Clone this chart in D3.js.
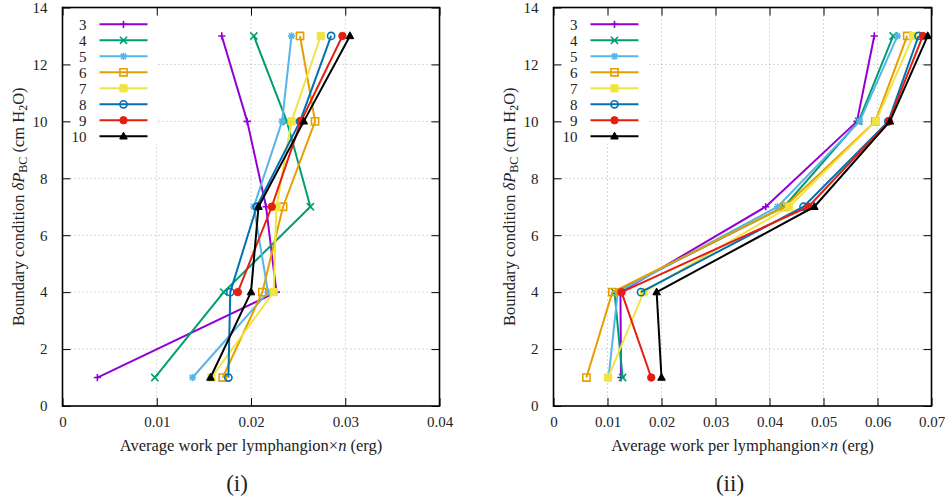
<!DOCTYPE html>
<html><head><meta charset="utf-8">
<script src="https://cdn.jsdelivr.net/npm/d3@7"></script>
<style>
html,body{margin:0;padding:0;background:#fff;}
svg{display:block;}
svg text{font-family:"Liberation Serif",serif;}
</style></head>
<body><svg id="c" width="946" height="503"></svg>
<script>
// ---- data ----
const yLevels = [1, 4, 7, 10, 13];
const seriesNames = ["3", "4", "5", "6", "7", "8", "9", "10"];
const seriesColors = ["#9400d3", "#009e73", "#56b4e9", "#e69f00", "#f0e442", "#0072b2", "#e51e10", "#000000"];
const seriesMarkers = ["plus", "cross", "star", "osq", "fsq", "ocirc", "fcirc", "ftri"];

// panel (i): average work per lymphangion x n at yLevels
const p1_s3  = [0.0037, 0.0227, 0.0216, 0.0196, 0.0169];
const p1_s4  = [0.0098, 0.0171, 0.0263, 0.0238, 0.0203];
const p1_s5  = [0.0138, 0.0218, 0.0203, 0.0233, 0.0243];
const p1_s6  = [0.0170, 0.0212, 0.0234, 0.0268, 0.0252];
const p1_s7  = [0.0158, 0.0224, 0.0227, 0.0243, 0.0274];
const p1_s8  = [0.0176, 0.0178, 0.0206, 0.0252, 0.0285];
const p1_s9  = [null,   0.0186, 0.0222, 0.0253, 0.0297];
const p1_s10 = [0.0157, 0.0200, 0.0208, 0.0256, 0.0305];

// panel (ii)
const p2_s3  = [0.0125, 0.0124, 0.0393, 0.0562, 0.0594];
const p2_s4  = [0.0128, 0.0113, 0.0427, 0.0565, 0.0629];
const p2_s5  = [0.0102, 0.0119, 0.0415, 0.0567, 0.0637];
const p2_s6  = [0.0061, 0.0109, 0.0428, 0.0596, 0.0655];
const p2_s7  = [0.0101, 0.0167, 0.0436, 0.0597, 0.0666];
const p2_s8  = [null,   0.0162, 0.0463, 0.0620, 0.0676];
const p2_s9  = [0.0181, 0.0126, 0.0472, 0.0621, 0.0684];
const p2_s10 = [0.0200, 0.0191, 0.0483, 0.0623, 0.0693];

const p1Ticks = [0, 0.01, 0.02, 0.03, 0.04];
const p2Ticks = [0, 0.01, 0.02, 0.03, 0.04, 0.05, 0.06, 0.07];
const yTicks = [0, 2, 4, 6, 8, 10, 12, 14];
const xTitle = "Average work per lymphangion×";
const captions = ["(i)", "(ii)"];

// ---- drawing ----
const FONT = "Liberation Serif, serif";
const svg = d3.select("#c");
const panels = [
  {x0: 62.5, x1: 439.5, dom: [0, 0.04], ticks: p1Ticks, series: [p1_s3,p1_s4,p1_s5,p1_s6,p1_s7,p1_s8,p1_s9,p1_s10], cap: captions[0], capX: 237},
  {x0: 553.5, x1: 931.5, dom: [0, 0.07], ticks: p2Ticks, series: [p2_s3,p2_s4,p2_s5,p2_s6,p2_s7,p2_s8,p2_s9,p2_s10], cap: captions[1], capX: 730}
];
const yTop = 7.5, yBot = 406;

function markerPath(t, s) {
  switch (t) {
    case "plus": return `M${-s},0H${s}M0,${-s}V${s}`;
    case "cross": return `M${-s},${-s}L${s},${s}M${-s},${s}L${s},${-s}`;
    case "star": { const c = s*0.75; return `M${-s},0H${s}M0,${-s}V${s}M${-c},${-c}L${c},${c}M${-c},${c}L${c},${-c}`; }
    case "osq": case "fsq": return `M${-s},${-s}H${s}V${s}H${-s}Z`;
    case "ocirc": case "fcirc": return d3.symbol(d3.symbolCircle, Math.PI*s*s)();
    case "ftri": return `M0,${-s*1.15}L${s*1.05},${s*0.75}L${-s*1.05},${s*0.75}Z`;
  }
}
function drawMarker(g, t, color, x, y) {
  const filled = (t === "fsq" || t === "fcirc" || t === "ftri");
  const s = (t === "fcirc") ? 3.7 : 3.6;
  g.append("path").attr("d", markerPath(t, s))
    .attr("transform", `translate(${x},${y})`)
    .attr("fill", filled ? color : "none")
    .attr("stroke", color)
    .attr("stroke-width", filled ? 1 : 1.6);
}

panels.forEach(p => {
  const x = d3.scaleLinear().domain(p.dom).range([p.x0, p.x1]);
  const y = d3.scaleLinear().domain([0, 14]).range([yBot, yTop]);
  const g = svg.append("g");

  // grid
  const grid = g.append("g").attr("stroke", "#b0b0b0").attr("stroke-width", 1).attr("stroke-dasharray", "1,3");
  p.ticks.slice(1, -1).forEach(t => grid.append("line").attr("x1", x(t)).attr("x2", x(t)).attr("y1", yTop).attr("y2", yBot));
  yTicks.slice(1, -1).forEach(t => grid.append("line").attr("x1", p.x0).attr("x2", p.x1).attr("y1", y(t)).attr("y2", y(t)));

  // key box (opaque)
  g.append("rect").attr("x", p.x0).attr("y", yTop).attr("width", 95).attr("height", 136).attr("fill", "#fff");

  // axes (inward ticks) on all four sides
  const ax = g.append("g");
  const axes = [];
  axes.push(ax.append("g").attr("transform", `translate(0,${yBot})`)
    .call(d3.axisBottom(x).tickValues(p.ticks).tickSize(-8).tickPadding(10).tickFormat(d => d === 0 ? "0" : d3.format(".2f")(d))));
  axes.push(ax.append("g").attr("transform", `translate(0,${yTop})`)
    .call(d3.axisTop(x).tickValues(p.ticks).tickSize(-8).tickFormat("")));
  axes.push(ax.append("g").attr("transform", `translate(${p.x0},0)`)
    .call(d3.axisLeft(y).tickValues(yTicks).tickSize(-8).tickPadding(15).tickFormat(d3.format("d"))));
  axes.push(ax.append("g").attr("transform", `translate(${p.x1},0)`)
    .call(d3.axisRight(y).tickValues(yTicks).tickSize(-8).tickFormat("")));
  axes.forEach(a => a.attr("font-size", 15).attr("font-family", FONT));
  ax.selectAll(".domain").remove();
  ax.selectAll(".tick line").attr("stroke", "#000").attr("stroke-width", 1);
  ax.selectAll("text").attr("fill", "#222");
  g.append("rect").attr("x", p.x0).attr("y", yTop).attr("width", p.x1 - p.x0).attr("height", yBot - yTop)
    .attr("fill", "none").attr("stroke", "#000").attr("stroke-width", 1.6);

  // data
  const line = d3.line().x(d => x(d[0])).y(d => y(d[1]));
  p.series.forEach((vals, i) => {
    const pts = vals.map((v, j) => [v, yLevels[j]]).filter(d => d[0] != null);
    const sg = g.append("g");
    sg.append("path").datum(pts).attr("d", line)
      .attr("fill", "none").attr("stroke", seriesColors[i]).attr("stroke-width", 2).attr("stroke-linejoin", "round");
    pts.forEach(d => drawMarker(sg, seriesMarkers[i], seriesColors[i], x(d[0]), y(d[1])));
  });

  // legend
  const lg = g.append("g").attr("font-size", 15).attr("font-family", FONT);
  seriesNames.forEach((nm, i) => {
    const ly = 24.3 + 16 * i;
    lg.append("text").attr("x", p.x0 + 24).attr("y", ly).attr("dy", "0.35em").attr("text-anchor", "end").attr("fill", "#222").text(nm);
    lg.append("line").attr("x1", p.x0 + 37).attr("x2", p.x0 + 85).attr("y1", ly).attr("y2", ly)
      .attr("stroke", seriesColors[i]).attr("stroke-width", 2);
    drawMarker(lg, seriesMarkers[i], seriesColors[i], p.x0 + 61, ly);
  });

  // x title
  const xt = g.append("text").attr("x", (p.x0 + p.x1) / 2).attr("y", 451).attr("text-anchor", "middle")
    .attr("font-size", 16.5).attr("font-family", FONT).attr("fill", "#222");
  xt.append("tspan").text(xTitle);
  xt.append("tspan").attr("font-style", "italic").text("n");
  xt.append("tspan").text(" (erg)");

  // y title
  const yt = g.append("text").attr("transform", `translate(${p.x0 - 44},${(yTop + yBot) / 2}) rotate(-90)`)
    .attr("text-anchor", "middle").attr("dy", "0.35em").attr("font-size", 16.5).attr("font-family", FONT).attr("fill", "#222");
  yt.append("tspan").text("Boundary condition ");
  yt.append("tspan").attr("font-style", "italic").text("δP");
  yt.append("tspan").attr("font-size", 12).attr("dy", 3).text("BC");
  yt.append("tspan").attr("dy", -3).text(" (cm H");
  yt.append("tspan").attr("font-size", 12).attr("dy", 3).text("2");
  yt.append("tspan").attr("dy", -3).text("O)");

  // caption
  g.append("text").attr("x", p.capX).attr("y", 491).attr("text-anchor", "middle").attr("font-size", 23)
    .attr("font-family", FONT).attr("fill", "#222").text(p.cap);
});
</script></body></html>
